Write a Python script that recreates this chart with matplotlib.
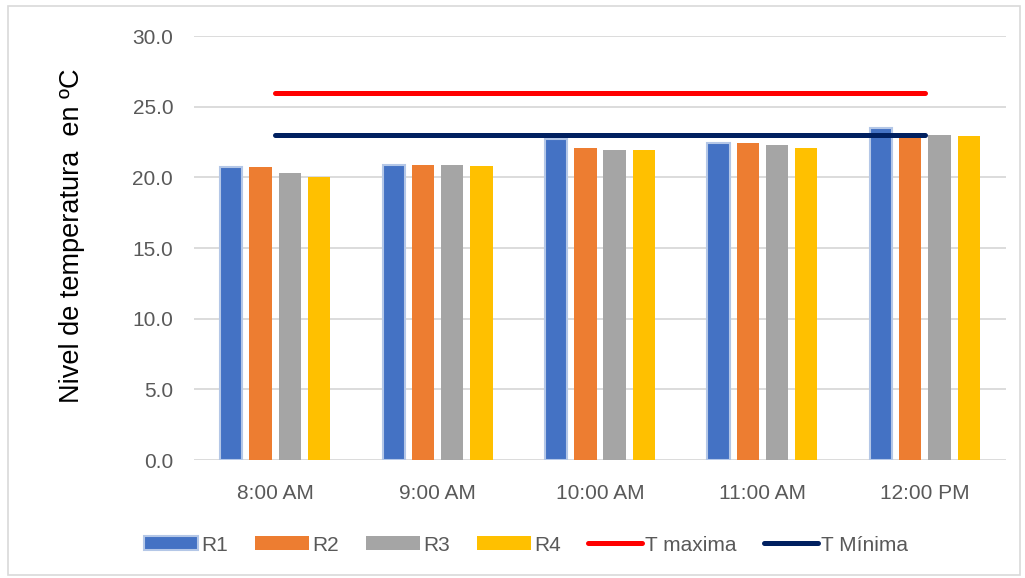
import matplotlib
matplotlib.use('Agg')
import matplotlib.pyplot as plt
import numpy as np
from matplotlib.patches import Rectangle

plt.rcParams['font.family'] = ['Liberation Sans', 'DejaVu Sans']

# data
horas = ['8:00 AM', '9:00 AM', '10:00 AM', '11:00 AM', '12:00 PM']
r1 = [20.7, 20.9, 22.7, 22.4, 23.5]
r2 = [20.7, 20.9, 22.1, 22.4, 23.0]
r3 = [20.3, 20.9, 21.9, 22.3, 23.0]
r4 = [20.0, 20.8, 21.9, 22.1, 22.9]
t_maxima = [26.0, 26.0, 26.0, 26.0, 26.0]
t_minima = [23.0, 23.0, 23.0, 23.0, 23.0]

series = {'R1': r1, 'R2': r2, 'R3': r3, 'R4': r4}
colores = {'R1': '#4472C4', 'R2': '#ED7D31', 'R3': '#A5A5A5', 'R4': '#FFC000'}

fig = plt.figure(figsize=(10.25, 5.78), dpi=100)
ax = fig.add_axes([194/1025, 1-460/578, 812/1025, 424/578])

x = np.arange(len(horas))
ancho = 0.137
paso = 0.18
handles = []
for i, (nombre, vals) in enumerate(series.items()):
    off = (i - 1.5) * paso
    if nombre == 'R1':
        b = ax.bar(x + off, vals, ancho, color=colores[nombre], edgecolor='#B4C7E7',
                   linewidth=1.5, label=nombre, zorder=2)
    else:
        b = ax.bar(x + off, vals, ancho, color=colores[nombre], label=nombre, zorder=2)
    handles.append(b)

l1, = ax.plot(x, t_maxima, color='#FF0000', lw=3.6, solid_capstyle='round', label='T maxima', zorder=3)
l2, = ax.plot(x, t_minima, color='#002060', lw=3.6, solid_capstyle='round', label='T Mínima', zorder=3)
handles += [l1, l2]

ax.set_xlim(-0.5, len(horas) - 0.5)
ax.set_ylim(0, 30)
ax.set_yticks(np.arange(0, 31, 5))
ax.set_yticklabels(['%.1f' % v for v in np.arange(0, 31, 5)])
ax.set_xticks(x)
ax.set_xticklabels(horas)
ax.tick_params(axis='both', length=0, labelsize=15, colors='#595959')
ax.tick_params(axis='x', pad=17)
ax.tick_params(axis='y', pad=15)
ax.grid(axis='y', color='#D9D9D9', lw=1.3, zorder=0)
ax.set_axisbelow(True)
for s in ax.spines.values():
    s.set_visible(False)

fig.text(72/1025, 1-236/578, 'Nivel de temperatura  en ºC', rotation=90,
         ha='center', va='center', fontsize=19.5, color='black')

fig.legend(handles=handles, labels=[h.get_label() for h in handles],
           loc='center', bbox_to_anchor=(0.513, 0.057), ncol=6, frameon=False,
           fontsize=15, handlelength=2.6, handleheight=0.65, handletextpad=0.15,
           columnspacing=1.3, labelcolor='#595959')

# chart border
fig.patches.append(Rectangle((8/1025, 3/578), 1012/1025, 569/578, transform=fig.transFigure,
                             fill=False, edgecolor='#D9D9D9', lw=1.2))

plt.savefig('out.png')
plt.close()
